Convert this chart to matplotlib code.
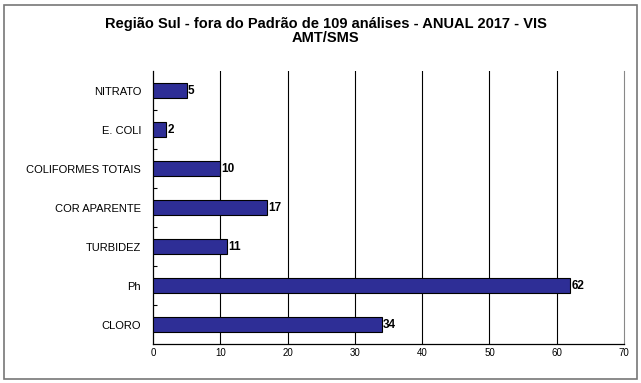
import matplotlib.pyplot as plt
from matplotlib.patches import Rectangle
import numpy as np

plt.rcParams['font.family'] = ['Liberation Sans', 'DejaVu Sans']

categories = ['NITRATO', 'E. COLI', 'COLIFORMES TOTAIS', 'COR APARENTE', 'TURBIDEZ', 'Ph', 'CLORO']
counts = [5, 2, 10, 17, 11, 62, 34]
xticks = [0, 10, 20, 30, 40, 50, 60, 70]

fig = plt.figure(figsize=(6.41, 3.83), dpi=100)
fig.patches.append(Rectangle((4 / 641, 4 / 383), 633 / 641, 374 / 383, transform=fig.transFigure,
                             fill=False, edgecolor='#777777', linewidth=1.2))
ax = fig.add_axes([0.2387, 0.1018, 0.7348, 0.7128])

y = np.arange(len(categories))
ax.barh(y, counts, height=0.4, color='#2e2e96', edgecolor='black', linewidth=0.8, zorder=3)
for yi, v in zip(y, counts):
    ax.text(v + 0.2, yi, str(v), va='center', ha='left', fontsize=8.5, fontweight='bold', zorder=4)

ax.set_xlim(0, 70)
ax.set_ylim(len(categories) - 0.5, -0.5)
ax.set_xticks(xticks)
ax.set_xticklabels([str(t) for t in xticks], fontsize=7)
ax.tick_params(axis='x', length=0, pad=3)
ax.set_yticks(y)
ax.set_yticklabels(categories, fontsize=8)
ax.tick_params(axis='y', which='major', length=0, pad=8.5)
ax.set_yticks(np.arange(len(categories) - 1) + 0.5, minor=True)
ax.tick_params(axis='y', which='minor', direction='in', length=3, width=0.8)
for t in xticks[1:-1]:
    ax.axvline(t, color='black', linewidth=0.8, zorder=1)

ax.spines['top'].set_visible(False)
ax.spines['right'].set_color('#888888')
ax.spines['right'].set_linewidth(0.8)
ax.spines['left'].set_linewidth(0.9)
ax.spines['bottom'].set_linewidth(0.9)

fig.text(0.508, 0.955, 'Região Sul - fora do Padrão de 109 análises - ANUAL 2017 - VIS\nAMT/SMS',
         ha='center', va='top', fontsize=10.5, fontweight='bold', linespacing=0.95)

plt.savefig('out.png', dpi=100)
